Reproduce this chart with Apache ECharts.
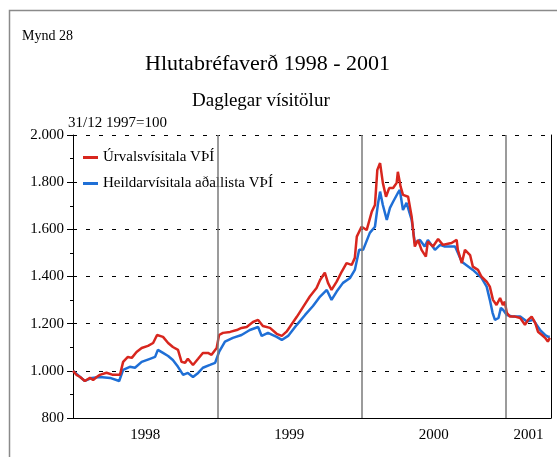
<!DOCTYPE html>
<html>
<head>
<meta charset="utf-8">
<script src="https://cdn.jsdelivr.net/npm/echarts@6/dist/echarts.min.js"></script>
<style>
  html, body { margin: 0; padding: 0; background: #fff; }
  #chart { width: 557px; height: 457px; }
</style>
</head>
<body>
<div id="chart"></div>
<script>
// dagar frá 31/12 1997 og gildi vísitalna (31/12 1997 = 1000)
const urvalDays = [0, 9, 18, 30, 43, 51, 60, 68, 85, 101, 119, 127, 139, 149, 161, 174, 190, 203, 213, 228,
  241, 253, 266, 275, 284, 291, 304, 317, 329, 342, 351, 364, 370, 380, 398, 415, 427, 440, 456, 469,
  481, 499, 516, 529, 541, 567, 588, 600, 617, 626, 638, 646, 655, 668, 681, 693, 706, 714, 719, 731,
  744, 757, 765, 771, 778, 785, 793, 801, 811, 820, 823, 830, 836, 849, 858, 866, 874, 883, 894, 899,
  912, 925, 937, 947, 959, 972, 975, 985, 993, 1006, 1013, 1026, 1035, 1048, 1056, 1064, 1073, 1082, 1089, 1094,
  1099, 1107, 1120, 1133, 1145, 1153, 1162, 1171, 1178, 1188, 1196, 1203, 1208];
const urvalValues = [1000, 983, 974, 957, 970, 961, 974, 983, 992, 983, 983, 1038, 1059, 1055, 1080, 1097, 1106, 1118, 1152, 1144,
  1118, 1101, 1089, 1038, 1034, 1051, 1025, 1051, 1076, 1076, 1068, 1097, 1152, 1161, 1165, 1173, 1182, 1186, 1207, 1216,
  1190, 1182, 1157, 1148, 1166, 1229, 1284, 1315, 1351, 1385, 1416, 1373, 1343, 1378, 1421, 1457, 1449, 1479, 1569, 1611,
  1597, 1675, 1703, 1852, 1881, 1797, 1738, 1775, 1775, 1797, 1844, 1781, 1746, 1738, 1654, 1527, 1555, 1513, 1484, 1548,
  1527, 1559, 1534, 1538, 1542, 1555, 1513, 1457, 1513, 1491, 1442, 1428, 1399, 1378, 1357, 1301, 1279, 1309, 1279, 1293,
  1246, 1230, 1230, 1224, 1195, 1216, 1230, 1203, 1166, 1152, 1140, 1124, 1140];

const heildDays = [0, 30, 48, 68, 94, 117, 127, 144, 157, 174, 195, 208, 215, 228, 241, 253, 266, 279, 291, 304,
  317, 329, 347, 360, 370, 385, 405, 427, 448, 469, 478, 494, 516, 529, 545, 567, 588, 608, 626, 643,
  655, 668, 684, 702, 714, 725, 735, 752, 765, 773, 778, 785, 795, 803, 811, 823, 828, 836, 845, 858,
  866, 879, 891, 899, 917, 930, 942, 968, 985, 1013, 1035, 1048, 1056, 1063, 1069, 1078, 1084, 1090, 1099, 1115,
  1133, 1150, 1166, 1183, 1196, 1203, 1208];
const heildValues = [1000, 957, 970, 974, 970, 957, 1004, 1017, 1013, 1038, 1051, 1059, 1089, 1076, 1063, 1046, 1017, 983, 991, 974,
  991, 1013, 1025, 1034, 1080, 1124, 1140, 1152, 1173, 1186, 1148, 1161, 1144, 1131, 1148, 1195, 1237, 1275, 1315, 1343,
  1301, 1336, 1373, 1394, 1428, 1513, 1513, 1585, 1611, 1712, 1760, 1703, 1640, 1691, 1717, 1754, 1767, 1682, 1712, 1640,
  1542, 1555, 1527, 1555, 1513, 1534, 1527, 1527, 1463, 1428, 1394, 1357, 1301, 1246, 1216, 1224, 1267, 1258, 1237, 1230,
  1230, 1209, 1216, 1174, 1152, 1145, 1145];

const yearLines = [366, 731, 1097];          // 1/1 1999, 1/1 2000, 1/1 2001
const yearLabelDays = [183, 548, 914, 1154]; // miðja hvers árs
const yearLabels = ['1998', '1999', '2000', '2001'];
const lastDay = 1211;

const toPairs = (days, vals) => days.map((d, i) => [d, vals[i]]);

const serif = '"Liberation Serif", "Times New Roman", serif';
const chart = echarts.init(document.getElementById('chart'));

const fmtThousand = (v) => String(v).replace(/\B(?=(\d{3})+(?!\d))/g, '.');

chart.setOption({
  animation: false,
  textStyle: { fontFamily: serif, color: '#000' },
  grid: { left: 73, right: 6, top: 135, bottom: 39 },
  graphic: [
    { type: 'rect', shape: { x: 9.5, y: 10.5, width: 600, height: 500 },
      style: { fill: 'none', stroke: '#8a8a8a', lineWidth: 1.5 }, z: -1 },
    { type: 'text', x: 22, y: 36, style: { text: 'Mynd 28', font: '14px ' + serif, fill: '#000', verticalAlign: 'middle' } },
    { type: 'text', x: 145, y: 64, style: { text: 'Hlutabréfaverð 1998 - 2001', font: '22px ' + serif, fill: '#000', verticalAlign: 'middle' } },
    { type: 'text', x: 192, y: 101, style: { text: 'Daglegar vísitölur', font: '19px ' + serif, fill: '#000', verticalAlign: 'middle' } },
    { type: 'text', x: 68, y: 123, style: { text: '31/12 1997=100', font: '15px ' + serif, fill: '#000', verticalAlign: 'middle' } }
  ],
  legend: {
    left: 77, top: 148, orient: 'vertical',
    padding: [2, 6, 2, 6],
    backgroundColor: '#fff',
    icon: 'rect',
    itemWidth: 15, itemHeight: 3, itemGap: 11,
    textStyle: { fontFamily: serif, fontSize: 15, color: '#000' },
    data: ['Úrvalsvísitala VÞÍ', 'Heildarvísitala aðallista VÞÍ'],
    z: 5
  },
  xAxis: {
    type: 'value',
    min: 0, max: lastDay,
    axisLine: { lineStyle: { color: '#000', width: 1 } },
    axisTick: { show: false },
    splitLine: { show: false },
    axisLabel: {
      customValues: yearLabelDays,
      formatter: (v) => yearLabels[yearLabelDays.indexOf(v)] || '',
      fontFamily: serif, fontSize: 15, color: '#000', margin: 10
    }
  },
  yAxis: [{
    type: 'value',
    min: 800, max: 2000, interval: 200,
    axisLine: { show: true, lineStyle: { color: '#000', width: 1 } },
    axisTick: { show: true, length: 6, lineStyle: { color: '#000' } },
    minorTick: { show: true, splitNumber: 2, length: 3, lineStyle: { color: '#000' } },
    splitLine: { show: true, lineStyle: { color: '#000', type: [4, 9], width: 1 } },
    axisLabel: { formatter: fmtThousand, fontFamily: serif, fontSize: 15, color: '#000', margin: 9 }
  }, {
    type: 'value', position: 'right',
    min: 800, max: 2000, interval: 200,
    axisLine: { show: true, lineStyle: { color: '#000', width: 1 } },
    axisTick: { show: false }, axisLabel: { show: false }, splitLine: { show: false }
  }],
  series: [
    {
      name: 'Heildarvísitala aðallista VÞÍ',
      type: 'line', symbol: 'none',
      data: toPairs(heildDays, heildValues),
      lineStyle: { color: '#1f6fd6', width: 2.5 },
      itemStyle: { color: '#1f6fd6' },
      markLine: {
        silent: true, symbol: ['none', 'none'],
        label: { show: false },
        lineStyle: { color: '#7a7a7a', width: 1.5, type: 'solid' },
        data: yearLines.map(d => ({ xAxis: d }))
      }
    },
    {
      name: 'Úrvalsvísitala VÞÍ',
      type: 'line', symbol: 'none',
      data: toPairs(urvalDays, urvalValues),
      lineStyle: { color: '#d8261e', width: 2.5 },
      itemStyle: { color: '#d8261e' }
    }
  ]
});
</script>
</body>
</html>
